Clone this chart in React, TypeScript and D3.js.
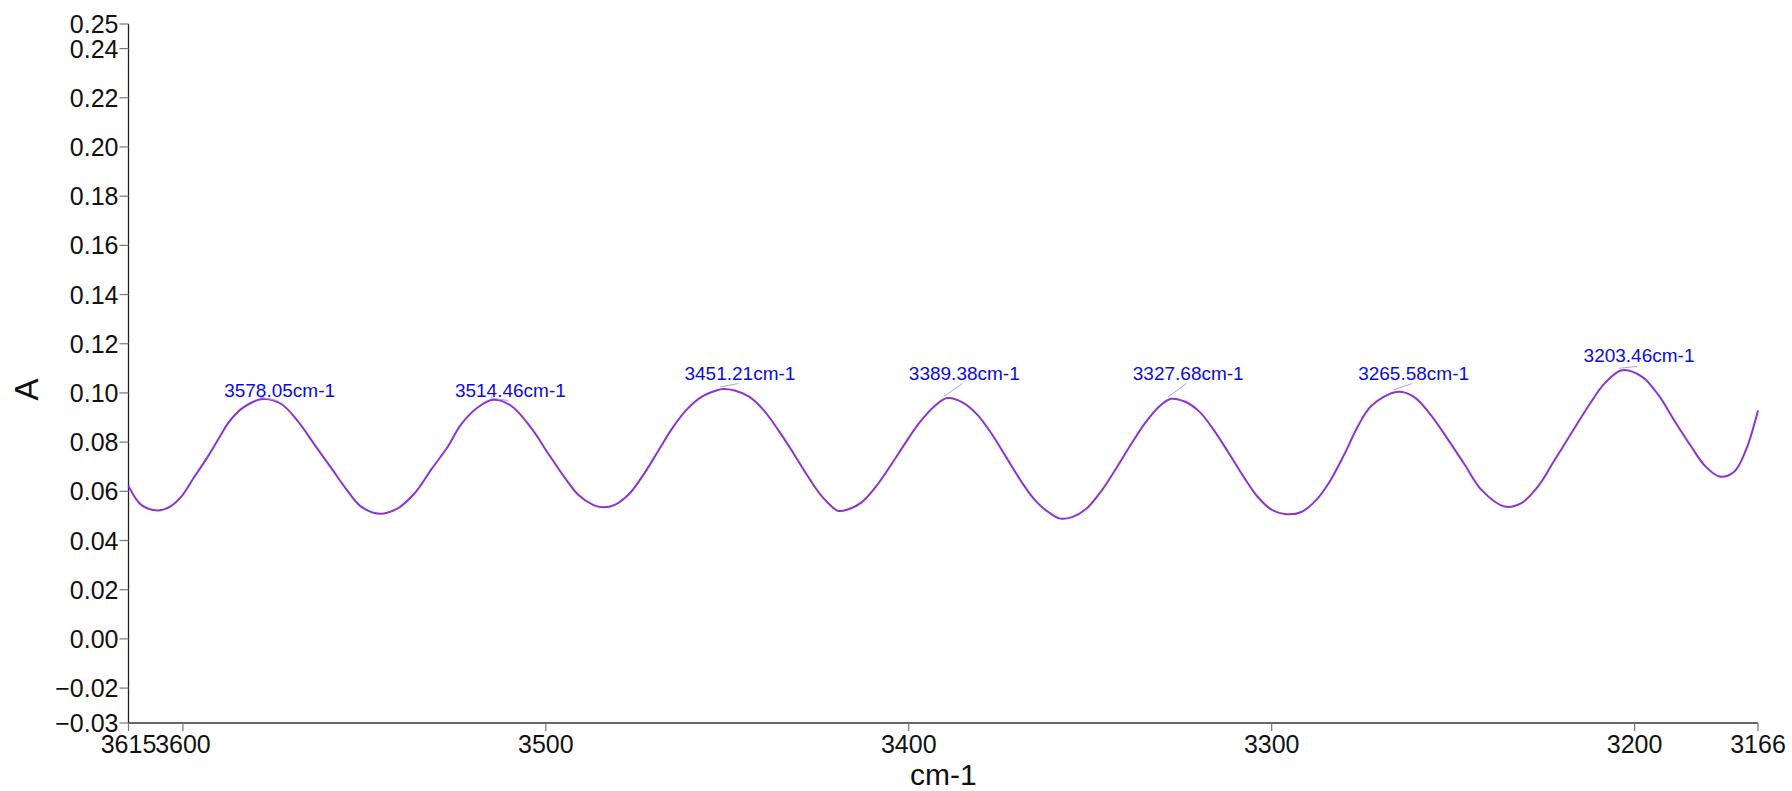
import React from "react";
import * as d3 from "d3";

const wavenumbers: number[] = [
  3615, 3611.5, 3606.9, 3603.2, 3600.4, 3596.8, 3593.1, 3589.4, 3587.6, 3583.9,
  3578.05, 3572.9, 3568.3, 3563.7, 3559.1, 3554.5, 3550.9, 3545.8, 3540.7, 3536.1,
  3531.6, 3527.0, 3523.3, 3518.7, 3514.46, 3509.5, 3504.0, 3499.4, 3495, 3491,
  3487, 3484.4, 3481, 3477, 3473, 3469, 3465, 3461, 3457, 3453,
  3451.21, 3448, 3444, 3440, 3436, 3432, 3428, 3424, 3421, 3419.6,
  3417, 3413, 3409, 3405, 3401, 3397, 3393, 3389.38, 3385, 3381,
  3377, 3373, 3369, 3365, 3361, 3358.2, 3355, 3351, 3347, 3343,
  3339, 3335, 3331, 3327.68, 3324, 3320, 3316, 3312, 3308, 3304,
  3300, 3296, 3292, 3288, 3284, 3280, 3276.2, 3272.5, 3265.58, 3261.0,
  3256.4, 3251.4, 3246.8, 3242.2, 3235.8, 3231.2, 3226.6, 3222.0, 3217.4, 3212.8,
  3208.2, 3203.46, 3198.1, 3193.5, 3188.9, 3184.4, 3180.7, 3176.6, 3172.5, 3169.3,
  3166,
];

const absorbance: number[] = [
  0.0622, 0.0545, 0.0522, 0.0541, 0.0579, 0.066, 0.0742, 0.0833, 0.0876, 0.0935,
  0.0975, 0.0955, 0.0884, 0.0789, 0.0694, 0.0599, 0.0538, 0.0509, 0.0532, 0.0593,
  0.0688, 0.0782, 0.0873, 0.0942, 0.0972, 0.0947, 0.0857, 0.0755, 0.066, 0.0585,
  0.0545, 0.0535, 0.0545, 0.059, 0.067, 0.0765, 0.086, 0.0935, 0.0985, 0.101,
  0.1016, 0.101, 0.0985, 0.093, 0.085, 0.076, 0.0665, 0.058, 0.0535, 0.0521,
  0.0525, 0.0555, 0.062, 0.0705, 0.0795, 0.088, 0.0945, 0.0979, 0.096, 0.091,
  0.083, 0.0735, 0.064, 0.056, 0.051, 0.0489, 0.0495, 0.053, 0.06, 0.069,
  0.0785, 0.0875, 0.0945, 0.0976, 0.0965, 0.0925, 0.085, 0.076, 0.0665, 0.058,
  0.0525, 0.0507, 0.0515, 0.056, 0.064, 0.075, 0.0866, 0.0948, 0.1004, 0.0986,
  0.0915, 0.081, 0.0708, 0.0606, 0.0538, 0.0552, 0.062, 0.0728, 0.0837, 0.0945,
  0.104, 0.1092, 0.1067, 0.0993, 0.0884, 0.0782, 0.0705, 0.066, 0.0681, 0.0769,
  0.0929,
];

// Peak picks (wavenumber) and the absorbance level where each label sits
const peakWavenumbers: number[] = [3578.05, 3514.46, 3451.21, 3389.38, 3327.68, 3265.58, 3203.46];
const peakLabelLevels: number[] = [0.0985, 0.0985, 0.1054, 0.1054, 0.1054, 0.1054, 0.1124];

const xTickValues: number[] = [3615, 3600, 3500, 3400, 3300, 3200, 3166];
const yTickValues: number[] = [-0.0342, -0.02, 0, 0.02, 0.04, 0.06, 0.08, 0.1, 0.12, 0.14, 0.16, 0.18, 0.2, 0.22, 0.24, 0.25];

const xDomain: [number, number] = [3615, 3166];
const yDomain: [number, number] = [-0.0342, 0.25];

const W = 1792;
const H = 791;
const LEFT = 128.5;
const RIGHT = 1758;
const TOP = 24;
const BOTTOM = 723;

const FONT = "'Liberation Sans', Arial, Helvetica, sans-serif";

export default function App() {
  const x = d3.scaleLinear().domain(xDomain).range([LEFT, RIGHT]);
  const y = d3.scaleLinear().domain(yDomain).range([BOTTOM, TOP]);

  const points: [number, number][] = wavenumbers.map((w, i) => [w, absorbance[i]]);
  const line = d3
    .line<[number, number]>()
    .x((d) => x(d[0]))
    .y((d) => y(d[1]))
    .curve(d3.curveCatmullRom.alpha(0.5));

  const peaks = peakWavenumbers.map((w, i) => {
    const idx = wavenumbers.indexOf(w);
    return { w, a: absorbance[idx], level: peakLabelLevels[i] };
  });

  const fmtY = d3.format(".2f");

  return (
    <div style={{ position: "fixed", left: 0, top: 0, width: W, height: H, background: "#fff" }}>
      <svg width={W} height={H} style={{ display: "block" }} fontFamily={FONT}>
        <rect x={0} y={0} width={W} height={H} fill="#fff" />
        {/* Y axis */}
        <line x1={LEFT} x2={LEFT} y1={TOP} y2={BOTTOM} stroke="#222" strokeWidth={1.3} />
        {yTickValues.map((v) => (
          <g key={"y" + v}>
            <line x1={LEFT - 9} x2={LEFT} y1={y(v)} y2={y(v)} stroke="#777" strokeWidth={1.2} />
            <text
              x={LEFT - 10}
              y={y(v)}
              textAnchor="end"
              dominantBaseline="central"
              fontSize={25}
              fill="#111"
            >
              {fmtY(v)}
            </text>
          </g>
        ))}
        {/* X axis */}
        <line x1={LEFT} x2={RIGHT} y1={BOTTOM} y2={BOTTOM} stroke="#333" strokeWidth={1.3} />
        {xTickValues.map((v) => (
          <g key={"x" + v}>
            <line x1={x(v)} x2={x(v)} y1={BOTTOM} y2={BOTTOM + 8} stroke="#777" strokeWidth={1.2} />
            <text x={x(v)} y={753} textAnchor="middle" fontSize={25} fill="#111">
              {v}
            </text>
          </g>
        ))}
        {/* Axis titles */}
        <text x={(LEFT + RIGHT) / 2} y={785} textAnchor="middle" fontSize={30} fill="#111">
          cm-1
        </text>
        <text
          transform={`translate(38, 389.5) rotate(-90)`}
          textAnchor="middle"
          fontSize={33}
          fill="#111"
        >
          A
        </text>
        {/* Spectrum */}
        <path d={line(points) || ""} fill="none" stroke="#8e35cc" strokeWidth={2} strokeLinejoin="round" />
        {/* Peak labels */}
        {peaks.map((p) => {
          const px = x(p.w);
          const py = y(p.a);
          const by = y(p.level);
          return (
            <g key={"p" + p.w}>
              <line x1={px - 3} y1={py - 2} x2={px + 15} y2={by + 4} stroke="#a8a2dc" strokeWidth={1} />
              <text x={px + 17} y={by} textAnchor="middle" fontSize={19} fill="#0b0bdf">
                {p.w.toFixed(2)}cm-1
              </text>
            </g>
          );
        })}
      </svg>
    </div>
  );
}
